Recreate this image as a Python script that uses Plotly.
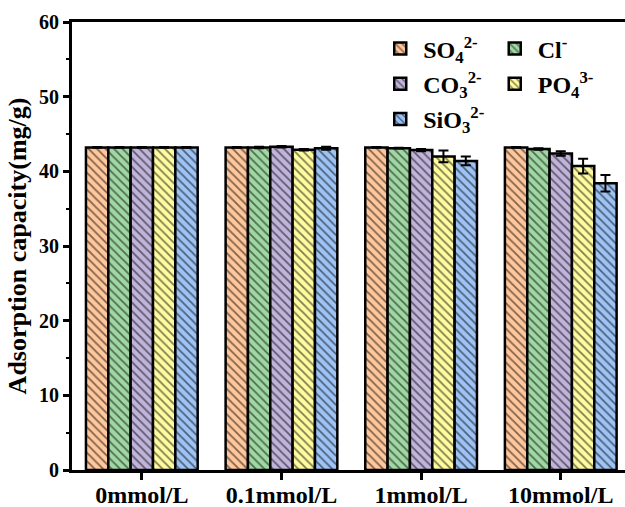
import plotly.graph_objects as go

categories = ["0mmol/L", "0.1mmol/L", "1mmol/L", "10mmol/L"]
series_names = ["SO<sub>4</sub><sup>2-</sup>", "Cl<sup>-</sup>", "CO<sub>3</sub><sup>2-</sup>",
                "PO<sub>4</sub><sup>3-</sup>", "SiO<sub>3</sub><sup>2-</sup>"]
legend_ids = ["legend", "legend2", "legend", "legend2", "legend"]
so4 = [43.2, 43.2, 43.2, 43.2]
cl = [43.2, 43.2, 43.1, 43.0]
co3 = [43.2, 43.3, 42.85, 42.4]
po4 = [43.2, 42.9, 42.0, 40.7]
sio3 = [43.2, 43.1, 41.4, 38.4]
so4_err = [0.05, 0.05, 0.05, 0.05]
cl_err = [0.05, 0.1, 0.05, 0.1]
co3_err = [0.05, 0.1, 0.15, 0.3]
po4_err = [0.05, 0.1, 0.8, 1.0]
sio3_err = [0.05, 0.2, 0.6, 1.1]
colors = ["#FFC79B", "#A0D8A4", "#C1B4DB", "#FFFB9F", "#9EC3F5"]

values = [so4, cl, co3, po4, sio3]
errors = [so4_err, cl_err, co3_err, po4_err, sio3_err]

font_family = "Liberation Serif"

fig = go.Figure()
for i, (name, vals, errs, col, lg) in enumerate(zip(series_names, values, errors, colors, legend_ids)):
    fig.add_trace(go.Bar(
        x=categories, y=vals, name=name, legend=lg, legendgroup=f"g{i}",
        marker=dict(color=col, line=dict(color="black", width=2.5),
                    pattern=dict(shape="\\", fgcolor="black", bgcolor=col,
                                 size=6, solidity=0.3)),
        error_y=dict(type="data", array=errs, visible=True, color="black",
                     thickness=2, width=5),
    ))

legend_font = dict(size=24, family=font_family, color="black", weight="bold")
fig.update_layout(
    width=625, height=507,
    margin=dict(l=72, r=0, t=22, b=37),
    plot_bgcolor="white", paper_bgcolor="white",
    barmode="group", bargap=0.2, bargroupgap=0,
    font=dict(family=font_family, color="black"),
    legend=dict(orientation="v", x=0.552, y=0.99, xanchor="left", yanchor="top",
                font=legend_font, bgcolor="rgba(0,0,0,0)", itemwidth=36,
                tracegroupgap=1),
    legend2=dict(orientation="v", x=0.759, y=0.99, xanchor="left", yanchor="top",
                 font=legend_font, bgcolor="rgba(0,0,0,0)", itemwidth=36,
                 tracegroupgap=1),
    showlegend=True,
)
fig.update_xaxes(
    range=[-0.5, 3.46], showline=True, linecolor="black", linewidth=3,
    mirror=True, ticks="outside", ticklen=7, tickwidth=3, tickcolor="black",
    tickfont=dict(size=24, family=font_family, color="black", weight="bold"),
    ticklabelstandoff=-6,
    showgrid=False, zeroline=False, automargin=False,
)
fig.update_yaxes(
    range=[0, 60], dtick=10, showline=True, linecolor="black", linewidth=3,
    mirror=False, ticks="outside", ticklen=6, tickwidth=3, tickcolor="black",
    minor=dict(dtick=5, ticks="outside", ticklen=3, tickwidth=2, tickcolor="black"),
    tickfont=dict(size=20, family=font_family, color="black", weight="bold"),
    title=dict(text="Adsorption capacity(mg/g)", standoff=5,
               font=dict(size=26, family=font_family, color="black", weight="bold")),
    showgrid=False, zeroline=False, automargin=False,
)

fig.write_html("out.html", post_script="document.body.style.margin='0px';",
               config={"displayModeBar": False})
